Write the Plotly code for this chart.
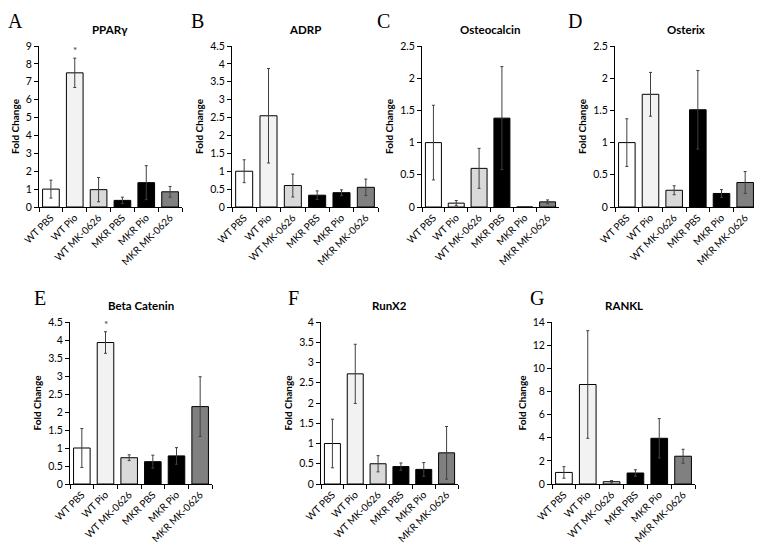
import plotly.graph_objects as go

categories = ["WT PBS", "WT Pio", "WT MK-0626", "MKR PBS", "MKR Pio", "MKR MK-0626"]
bar_colors = ["#ffffff", "#f2f2f2", "#d9d9d9", "#000000", "#000000", "#808080"]

titles = ["PPARγ", "ADRP", "Osteocalcin", "Osterix", "Beta Catenin", "RunX2", "RANKL"]
letters = ["A", "B", "C", "D", "E", "F", "G"]

pparg = [1.0, 7.5, 0.97, 0.37, 1.36, 0.85]
pparg_err = [0.5, 0.82, 0.68, 0.18, 0.95, 0.3]
adrp = [1.0, 2.55, 0.6, 0.33, 0.4, 0.55]
adrp_err = [0.32, 1.32, 0.32, 0.12, 0.08, 0.23]
osteocalcin = [1.0, 0.06, 0.6, 1.38, 0.0, 0.08]
osteocalcin_err = [0.58, 0.04, 0.31, 0.8, 0.0, 0.03]
osterix = [1.0, 1.75, 0.26, 1.51, 0.21, 0.38]
osterix_err = [0.37, 0.34, 0.07, 0.61, 0.06, 0.17]
beta_catenin = [1.0, 3.93, 0.73, 0.62, 0.78, 2.15]
beta_catenin_err = [0.54, 0.3, 0.08, 0.18, 0.23, 0.83]
runx2 = [1.0, 2.72, 0.5, 0.43, 0.36, 0.77]
runx2_err = [0.6, 0.73, 0.2, 0.09, 0.17, 0.65]
rankl = [1.0, 8.6, 0.2, 0.95, 3.95, 2.4]
rankl_err = [0.5, 4.65, 0.1, 0.28, 1.7, 0.6]

y_max = [9, 4.5, 2.5, 2.5, 4.5, 4, 14]
y_dtick = [1, 0.5, 0.5, 0.5, 0.5, 0.5, 2]

# asterisks: (panel index, category, y)
asterisks = [(0, "WT Pio", 8.8), (4, "WT Pio", 4.45)]

values = [pparg, adrp, osteocalcin, osterix, beta_catenin, runx2, rankl]
errors = [pparg_err, adrp_err, osteocalcin_err, osterix_err, beta_catenin_err, runx2_err, rankl_err]

# page has an 8px body margin, so the figure is offset by 8px
OFF = 8
W, H = 754, 536
# plot-area pixel boxes in window coordinates: (left, right, top, bottom)
boxes = [
    (39, 182, 46, 207),
    (232, 378, 46, 207),
    (422, 559, 46, 207),
    (615, 757, 46, 207),
    (70, 212, 322, 484),
    (321, 458, 322, 484),
    (552, 695, 322, 484),
]
# letter centre x, letter box top y (window coordinates)
letter_pos = [(15, 8), (197, 8), (383, 8), (575, 8), (40, 285), (293, 285), (537, 285)]


def px(xv):
    return (xv - OFF) / W


def py(yv):
    return 1 - (yv - OFF) / H


FONT = "Lato"
fig = go.Figure()
annotations = []
for i in range(7):
    xa = "x" if i == 0 else f"x{i+1}"
    ya = "y" if i == 0 else f"y{i+1}"
    fig.add_trace(go.Bar(
        x=categories, y=values[i],
        marker=dict(color=bar_colors, line=dict(color="#000000", width=1)),
        error_y=dict(type="data", array=errors[i], color="#404040", thickness=1, width=1.5),
        xaxis=xa, yaxis=ya, showlegend=False,
    ))
    l, r, t, b = boxes[i]
    xkey = "xaxis" if i == 0 else f"xaxis{i+1}"
    ykey = "yaxis" if i == 0 else f"yaxis{i+1}"
    fig.layout[xkey] = dict(
        domain=[px(l), px(r)], anchor=ya, type="category", automargin=False,
        showline=True, linecolor="#000000", linewidth=1,
        ticks="outside", tickson="boundaries", ticklen=4, tickcolor="#000000",
        tickangle=-45, tickfont=dict(family=FONT, size=10, color="#000000"),
        showgrid=False, zeroline=False, fixedrange=True,
    )
    fig.layout[ykey] = dict(
        domain=[py(b), py(t)], anchor=xa, automargin=False,
        range=[0, y_max[i]], dtick=y_dtick[i], tick0=0,
        showline=True, linecolor="#000000", linewidth=1,
        ticks="outside", ticklen=4, tickcolor="#000000",
        tickfont=dict(family=FONT, size=10.5, color="#000000"),
        title=dict(text="<b>Fold Change</b>", font=dict(family=FONT, size=10, color="#000000"), standoff=4),
        showgrid=False, zeroline=False, fixedrange=True,
    )
    annotations.append(dict(
        text=f"<b>{titles[i]}</b>", x=px((l + r) / 2), y=py(t - 17),
        xref="paper", yref="paper", showarrow=False,
        font=dict(family=FONT, size=11.5, color="#000000"), xanchor="center", yanchor="middle",
    ))
    lx, ly = letter_pos[i]
    annotations.append(dict(
        text=letters[i], x=px(lx), y=py(ly), xref="paper", yref="paper",
        showarrow=False, font=dict(family="Liberation Serif", size=20, color="#000000"),
        xanchor="center", yanchor="top",
    ))

for idx, cat, yv in asterisks:
    xa = "x" if idx == 0 else f"x{idx+1}"
    ya = "y" if idx == 0 else f"y{idx+1}"
    annotations.append(dict(
        text="*", x=cat, y=yv, xref=xa, yref=ya, showarrow=False,
        font=dict(family=FONT, size=10, color="#333333"), yanchor="middle",
    ))

fig.update_layout(
    width=W, height=H, margin=dict(l=0, r=0, t=0, b=0),
    paper_bgcolor="#ffffff", plot_bgcolor="#ffffff",
    bargap=0.3, annotations=annotations,
)
fig.write_html("out.html")
